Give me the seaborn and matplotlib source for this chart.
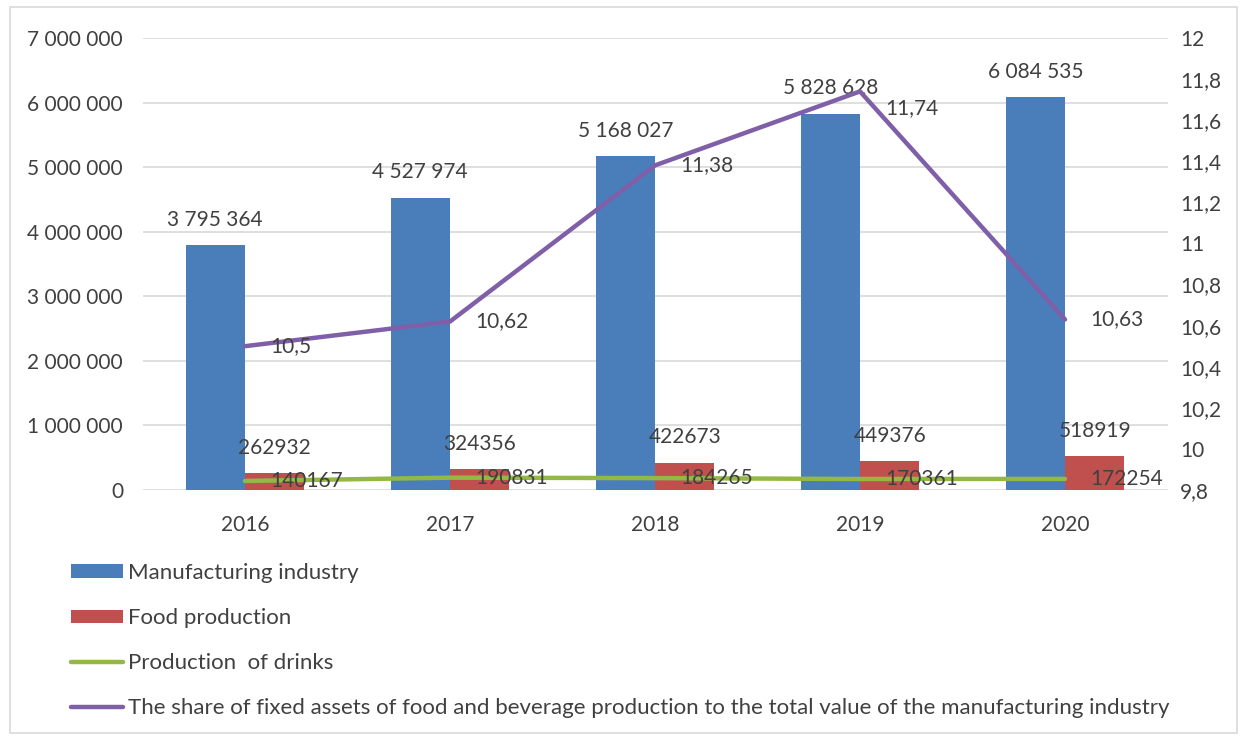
import numpy as np
import pandas as pd
import matplotlib
matplotlib.use("Agg")
import matplotlib.pyplot as plt
import seaborn as sns
from matplotlib.lines import Line2D
from matplotlib.patches import Patch, Rectangle
from matplotlib.ticker import FuncFormatter, MultipleLocator

# ---- data -------------------------------------------------------------
years = ["2016", "2017", "2018", "2019", "2020"]
manufacturing = [3795364, 4527974, 5168027, 5828628, 6084535]
food = [262932, 324356, 422673, 449376, 518919]
drinks = [140167, 190831, 184265, 170361, 172254]
share = [10.5, 10.62, 11.38, 11.74, 10.63]
series_names = [
    "Manufacturing industry",
    "Food production",
    "Production  of drinks",
    "The share of fixed assets of food and beverage production to the total value of the manufacturing industry",
]

# ---- style ------------------------------------------------------------
BLUE = "#4A7EBB"
RED = "#C0504D"
GREEN = "#93B844"
PURPLE = "#7F5FA8"
TEXT = "#404040"
GRID = "#D9D9D9"
FS = 15
LEGEND_FS = 16

sns.set_theme(style="white")
plt.rcParams["font.family"] = ["Lato", "DejaVu Sans"]
plt.rcParams["text.color"] = TEXT

W, H = 1247, 740
fig = plt.figure(figsize=(W / 100, H / 100), dpi=100)
ax = fig.add_axes([142.5 / W, 250 / H, 1025 / W, 452 / H])

bars = pd.DataFrame({
    "year": years * 2,
    "series": [series_names[0]] * len(years) + [series_names[1]] * len(years),
    "value": manufacturing + food,
})
sns.barplot(data=bars, x="year", y="value", hue="series",
            palette=[BLUE, RED], width=0.58, saturation=1, linewidth=0,
            legend=False, ax=ax)

ax.set_ylim(0, 7_000_000)
ax.yaxis.set_major_locator(MultipleLocator(1_000_000))
ax.yaxis.set_major_formatter(FuncFormatter(lambda v, p: f"{int(round(v)):,}".replace(",", " ")))
ax.set_axisbelow(True)
ax.yaxis.grid(True, color=GRID, lw=1.2)
ax.xaxis.grid(False)
ax.set_xlabel("")
ax.set_ylabel("")
ax.tick_params(axis="y", length=0, pad=14, labelsize=FS, labelcolor=TEXT)
ax.tick_params(axis="x", length=0, pad=18, labelsize=FS, labelcolor=TEXT)
for s in ax.spines.values():
    s.set_visible(False)

# value labels above the bars
ax.bar_label(ax.containers[0], labels=[f"{v:,}".replace(",", " ") for v in manufacturing],
             padding=11, fontsize=FS, color=TEXT)
ax.bar_label(ax.containers[1], labels=[str(v) for v in food],
             padding=11, fontsize=FS, color=TEXT)

pos = np.arange(len(years))

# drinks line on the primary axis
sns.lineplot(x=pos, y=drinks, ax=ax, color=GREEN, lw=3.2, legend=False)
for i, v in enumerate(drinks):
    ax.annotate(str(v), (i, v), xytext=(18, 0), textcoords="offset points",
                va="center", ha="left", fontsize=FS, color=TEXT)

# share line on the secondary axis
ax2 = ax.twinx()
sns.lineplot(x=pos, y=share, ax=ax2, color=PURPLE, lw=3.2, legend=False)
ax2.set_ylim(9.8, 12)
ax2.yaxis.set_major_locator(MultipleLocator(0.2))
ax2.yaxis.set_major_formatter(FuncFormatter(
    lambda v, p: f"{v:.1f}".rstrip("0").rstrip(".").replace(".", ",")))
ax2.tick_params(axis="y", length=0, pad=9, labelsize=FS, labelcolor=TEXT)
ax2.grid(False)
ax2.set_ylabel("")
for s in ax2.spines.values():
    s.set_visible(False)
share_dy = [0, 0, 0, -12, 0]
for i, v in enumerate(share):
    ax2.annotate(f"{v:g}".replace(".", ","), (i, v), xytext=(18, share_dy[i]),
                 textcoords="offset points", va="center", ha="left",
                 fontsize=FS, color=TEXT)

ax.set_xlim(-0.5, len(years) - 0.5)

# legend below the plot, one entry per row
handles = [
    Patch(facecolor=BLUE, edgecolor="none"),
    Patch(facecolor=RED, edgecolor="none"),
    Line2D([], [], color=GREEN, lw=3.2),
    Line2D([], [], color=PURPLE, lw=3.2),
]
fig.legend(handles, series_names, loc="upper left",
           bbox_to_anchor=(71 / W, 1 - 563 / H), frameon=False,
           fontsize=LEGEND_FS, handlelength=2.35, handleheight=0.55, handletextpad=0.2,
           labelspacing=1.13, borderpad=0, borderaxespad=0, labelcolor=TEXT)

# thin frame around the chart area
fig.add_artist(Rectangle((10 / W, 7 / H), 1227 / W, 726 / H, transform=fig.transFigure,
                         fill=False, edgecolor=GRID, lw=1.2))

fig.savefig("out.png", dpi=100)
